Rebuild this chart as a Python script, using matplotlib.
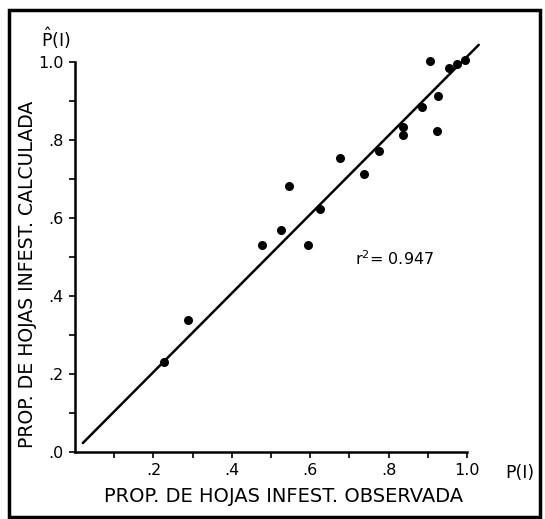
import numpy as np
import matplotlib.pyplot as plt
from matplotlib.patches import Rectangle

p_obs = [0.906, 0.955, 0.974, 0.994, 0.925, 0.885, 0.836, 0.836, 0.924, 0.776,
         0.676, 0.736, 0.546, 0.625, 0.525, 0.595, 0.476, 0.287, 0.227]
p_calc = [1.003, 0.985, 0.995, 1.005, 0.914, 0.885, 0.834, 0.814, 0.824, 0.773,
          0.753, 0.713, 0.682, 0.622, 0.569, 0.530, 0.530, 0.338, 0.231]

# fitted line end points
line_x = [0.02, 1.03]
line_y = [0.023, 1.044]

x_ticks = [0.2, 0.4, 0.6, 0.8, 1.0]
x_ticklabels = [".2", ".4", ".6", ".8", "1.0"]
y_ticks = [0.0, 0.2, 0.4, 0.6, 0.8, 1.0]
y_ticklabels = [".0", ".2", ".4", ".6", ".8", "1.0"]

plt.rcParams['font.family'] = ['DejaVu Sans']

fig = plt.figure(figsize=(5.45, 5.19), dpi=100)
ax = fig.add_axes([75 / 545, 1 - 452 / 519, 392 / 545, 390 / 519])

ax.plot(line_x, line_y, color='black', linewidth=1.8, clip_on=False, solid_capstyle='round')
ax.scatter(p_obs, p_calc, s=30, color='black', zorder=3, clip_on=False)

ax.set_xlim(0, 1.0)
ax.set_ylim(0, 1.0)
ax.spines['top'].set_visible(False)
ax.spines['right'].set_visible(False)
for side in ['left', 'bottom']:
    ax.spines[side].set_linewidth(1.8)

ax.set_xticks(x_ticks)
ax.set_xticklabels(x_ticklabels)
ax.set_yticks(y_ticks)
ax.set_yticklabels(y_ticklabels)
ax.set_xticks(np.arange(0.1, 1.0, 0.2), minor=True)
ax.set_yticks(np.arange(0.1, 1.0, 0.2), minor=True)
ax.tick_params(which='both', direction='out', length=4, width=1.2, labelsize=11.5, pad=4)

# axis titles placed like in the original
fig.text(284 / 545, 1 - 497 / 519, "PROP. DE HOJAS INFEST. OBSERVADA",
         fontsize=14, ha='center', va='center')
fig.text(28 / 545, 1 - 274 / 519, "PROP. DE HOJAS INFEST. CALCULADA",
         fontsize=13.6, ha='center', va='center', rotation=90)

fig.text(520 / 545, 1 - 473 / 519, "P(I)", fontsize=12.5, ha='center', va='center')
fig.text(56 / 545, 1 - 38 / 519, r"$\hat{\mathrm{P}}$(I)", fontsize=12.5, ha='center', va='center')
ax.text(0.715, 0.495, "r$^2$= 0.947", fontsize=11.5, ha='left', va='center')

# thick border round the whole figure
fig.patches.append(Rectangle((9 / 545, 1 - 517 / 519), 531 / 545, 507 / 519,
                             transform=fig.transFigure, fill=False,
                             edgecolor='black', linewidth=2.5))

fig.savefig("out.png", dpi=100)
